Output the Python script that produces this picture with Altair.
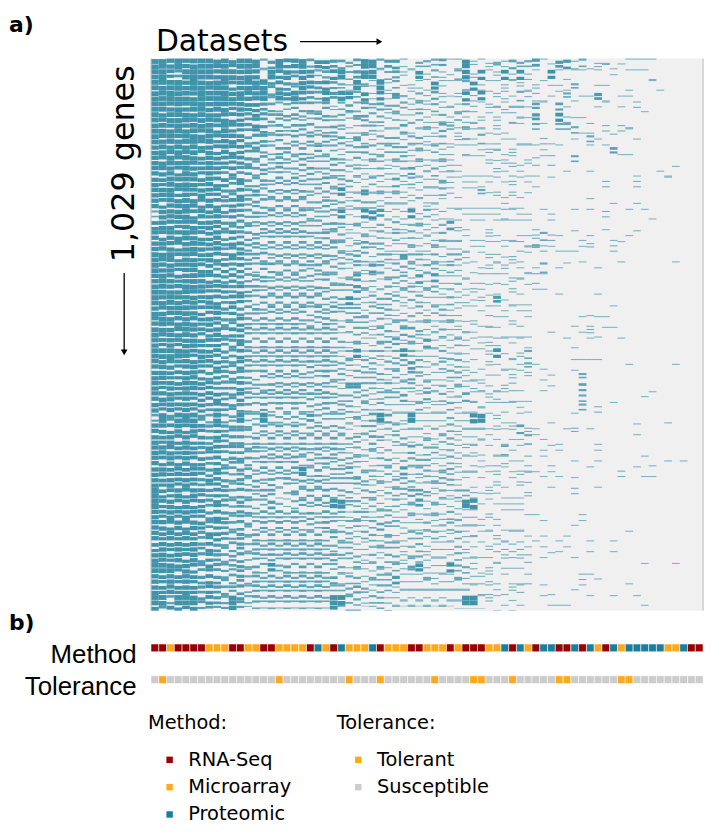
import altair as alt
import pandas as pd

# ---------------- data ----------------
N_GENES = 1029
BAND_GENES = 20                       # genes per row band of the density grid
DATASETS = list(range(1, 72))         # 71 datasets (columns)

# heatmap fill per row band (0 = empty .. 9 = full), columns 1-24
HEAT_A = [
    "887978887868873586784665", "896589887887872867576346", "888979878867888565476564",
    "889887988978778476865475", "887878878767665433444342", "878887877766565444433443",
    "887878786866565343444334", "878788786776455343434343", "787878676766554344343433",
    "778787676666544343343334", "777687676565544343334333", "768787676656444343433343",
    "778676766556453434343333", "767787676566444343433343", "377786767565443434343333",
    "677677676555434343433334", "767787667565443434343343", "777678767566443434343434",
    "878677676566444343434343", "877677665656434434343433", "787678766565444343433343",
    "887787766656443434343433", "878777676566434343434333", "777787667565443434343434",
    "787777676556434343433343", "877787667566434343434343", "767677666556434343434343",
    "888876766556434343434343", "777677666556434343434343", "776677656555434343433343",
    "767677665556433434343433", "777676666556434343434343", "767676656555434343433343",
    "485888548448338333335333", "776767656555434343433333", "767676656555343434343434",
    "777676566555443434343434", "767676656455434343433343", "776767656545434343473433",
    "767676566545343434343433", "966767656545434422434343", "967676656545433522343437",
    "767676656545434343434343", "776767656545434343433343", "767676566545343434343434",
    "676767565445343434343433", "776767565445343434343434", "888676565445343634343433",
    "767676565445343434343434", "767676565445343434343433", "884888565485343434343438",
    "757667454484232323232327",
]
# columns 25-48
HEAT_B = [
    "434873552133341272123243", "835772342162321372612626", "328328231221621136211212",
    "763626252232421262612213", "343434333232322232122222", "324433232232232321212122",
    "322332224223243232212111", "424323332332231221312111", "233432333232322121122121",
    "323233233232232111121221", "323223223422322111112121", "332232242322232111111121",
    "622523232222232111312121", "323332222212211111111111", "622665222623221111111211",
    "323222232232225211111111", "322323232322231211121111", "323433222322322211111112",
    "334323325332323321122121", "323253233323323211121211", "235232333252522221212122",
    "335322323323322212111121", "363233332232223221215111", "333233322232332211121111",
    "233323233223223212111121", "223323324432232221121111", "323223342325222321122111",
    "236233236322232211126112", "332332333532232321121121", "323333232432223322111121",
    "255332323323222322211221", "333323334224232242122111", "332323222232223212211211",
    "323248422822222227712111", "322332232222223222212124", "333243233223233222211111",
    "323232222423322222111311", "333223322333223212112211", "342332325233233222112112",
    "334323233322333211112112", "332332233443232332121111", "733232232352322277111111",
    "323323322322323222121111", "233234332223223222111111", "332332322332322322112111",
    "332223332232222221122222", "333232332332222322111212", "323223232462226332121111",
    "233233352223222322221111", "334323322222222221121122", "833233222222222288121111",
    "222123121212121111101010",
]
# columns 49-71
HEAT_C = [
    "35115523122111111000000", "21061111010101111000000", "12111130011001001100000",
    "22111311151011000000000", "14104100011010210000000", "15006211000000000000000",
    "03103331202022000000000", "10210010310100100000000", "11101000101411000000000",
    "22120030000000000000000", "11000100100000100111000", "11010000002000200010000",
    "10000000000000000000000", "00000000100100100000000", "10110010102001011000000",
    "11010000001000000000000", "12321011100101100000000", "23211111200210000000000",
    "10000001000010000001000", "11301100010000000000000", "12100000000000000000000",
    "11101000010000000000000", "10000000000000000000000", "10000000100100000000000",
    "10000011111000000000000", "10010001211100000000000", "10000110100010000000000",
    "30000000000000000000000", "31100011110001000001000", "20110013000000000000000",
    "00110004000000000000000", "10000003000000011000000", "10000003020100000000000",
    "00010010000000000010000", "21000120100000100000000", "31101000010000100000000",
    "00111000010000000000000", "20110010010000011010100", "21111000100020111000000",
    "10010010010000000000000", "20000020000000000000000", "00000000000000000000000",
    "11000001000000000000000", "00100011000000000000000", "11101100100101000000000",
    "10101100100100000000000", "20110010000000000000000", "00000000000000010001000",
    "20000002110001000000000", "00110011000000000000000", "00111100100100110000000",
    "00000000000000000000000",
]

METHOD_CODES = list("RRMRRRRMMM" "RRMMRRMMMM" "RPMRPMMMPR" "MMMRRMMMRM"
                    "RRRMMPRPMR" "PPRRPRPMRP" "MPPPPPMMPR" "R")
TOLERANCE_CODES = list("STSSSSSSSS" "SSSSSSTSSS" "SSSSSTSSST" "SSSSSSTSSS"
                       "STTSSSTSSS" "SSTTSSSSSS" "TTSSSSSSSS" "S")

METHOD_NAMES = {"R": "RNA-Seq", "M": "Microarray", "P": "Proteomic"}
TOLERANCE_NAMES = {"T": "Tolerant", "S": "Susceptible"}
METHOD_DOMAIN = ["RNA-Seq", "Microarray", "Proteomic"]
METHOD_COLORS = ["#990000", "#fda91c", "#1a7f9f"]
TOL_DOMAIN = ["Tolerant", "Susceptible"]
TOL_COLORS = ["#fda91c", "#cccccc"]

# ---------------- tables ----------------
n_cols = len(DATASETS)
half = BAND_GENES // 2
grid = [[int(ch) for ch in (HEAT_A[b] + HEAT_B[b] + HEAT_C[b])[:n_cols].ljust(n_cols, "0")]
        for b in range(len(HEAT_A))]


def place(start, length, span, mode):
    """Position a block of `length` genes inside a slot of `span` genes."""
    if mode == 0:
        return start, start + length
    if mode == 1:
        return start + span - length, start + span
    off = (span - length) // 2
    return start + off, start + off + length


rows = []
nb = len(grid)
for b in range(nb):
    g0 = b * BAND_GENES
    size = min(BAND_GENES, N_GENES - g0)
    for ci in range(n_cols):
        d = grid[b][ci]
        if d == 0:
            continue
        # block placement inside the band follows the neighbouring readings
        below = grid[b + 1][ci] if b + 1 < nb else 0
        left = grid[b][ci - 1] if ci > 0 else 0
        mode = (d + below + left + b) % 3
        n = max(1, round(d * size / 9))
        if n <= 2 or size < BAND_GENES:
            pieces = [place(g0, n, size, mode)]
        else:
            a = (n + 1) // 2
            pieces = [place(g0, a, half, mode), place(g0 + half, n - a, half, (mode + left) % 3)]
        for s, e in pieces:
            if e > s:
                rows.append({"dataset": DATASETS[ci], "g0": s, "g1": e, "d": d})
heat_df = pd.DataFrame(rows)

method_df = pd.DataFrame({"dataset": DATASETS,
                          "method": [METHOD_NAMES[c] for c in METHOD_CODES],
                          "row": "Method"})
tol_df = pd.DataFrame({"dataset": DATASETS,
                       "tolerance": [TOLERANCE_NAMES[c] for c in TOLERANCE_CODES],
                       "row": "Tolerance"})
one = pd.DataFrame({"k": [0]})

W = 556
H_HEAT = 556
TEAL = "#3f94ab"
FONT = "DejaVu Sans"

x_enc = alt.X("dataset:O", scale=alt.Scale(domain=DATASETS, paddingInner=0, paddingOuter=0),
              axis=None)

bg = alt.Chart(one).mark_rect(color="#f0f0f0").encode(
    x=alt.value(0), x2=alt.value(W), y=alt.value(0), y2=alt.value(H_HEAT))

heat = alt.Chart(heat_df).mark_rect(color=TEAL).encode(
    x=x_enc,
    y=alt.Y("g0:Q", scale=alt.Scale(domain=[0, N_GENES], range=[0, H_HEAT], nice=False, zero=False),
            axis=None),
    y2="g1:Q",
    opacity=alt.Opacity("d:Q", scale=alt.Scale(domain=[1, 6], range=[0.65, 1], clamp=True),
                        legend=None),
)

border_l = alt.Chart(one).mark_rule(color="#c4c4c4", strokeWidth=1.2).encode(
    x=alt.value(0), y=alt.value(0), y2=alt.value(H_HEAT))
border_r = alt.Chart(one).mark_rule(color="#c4c4c4", strokeWidth=1.2).encode(
    x=alt.value(W), y=alt.value(0), y2=alt.value(H_HEAT))

legend_common = dict(
    orient="none", titleFont=FONT, titleFontSize=19.5, titleFontWeight="normal", titleColor="black",
    labelFont=FONT, labelFontSize=19.5, labelColor="black", symbolType="square", symbolSize=42,
    symbolStrokeWidth=0, symbolOpacity=1, symbolOffset=12, labelOffset=9, rowPadding=6.5,
    titlePadding=17, padding=0,
)

axis_common = dict(orient="left", title=None, ticks=False, domain=False, labelFont="Liberation Sans",
                   labelFontSize=26, labelPadding=15, labelColor="black", labelOffset=7)

method = alt.Chart(method_df).mark_rect(stroke="white", strokeWidth=1, strokeOpacity=0.55).encode(
    x=x_enc,
    y=alt.Y("row:N", scale=alt.Scale(domain=["Method"], range=[589.6, 597.4],
                                     paddingInner=0, paddingOuter=0),
            axis=alt.Axis(**axis_common)),
    color=alt.Color("method:N", scale=alt.Scale(domain=METHOD_DOMAIN, range=METHOD_COLORS),
                    legend=alt.Legend(title="Method:", legendX=-3, legendY=660, **legend_common)),
)

tol = alt.Chart(tol_df).mark_rect(stroke="white", strokeWidth=1, strokeOpacity=0.55).encode(
    x=x_enc,
    y=alt.Y("row:N", scale=alt.Scale(domain=["Tolerance"], range=[621.6, 629.4],
                                     paddingInner=0, paddingOuter=0),
            axis=alt.Axis(**axis_common)),
    color=alt.Color("tolerance:N", scale=alt.Scale(domain=TOL_DOMAIN, range=TOL_COLORS),
                    legend=alt.Legend(title="Tolerance:", legendX=187, legendY=660, **legend_common)),
)


def label(text, x, y, size, weight="normal", angle=0, align="left", baseline="alphabetic"):
    return alt.Chart(one).mark_text(text=text, font=FONT, fontSize=size, fontWeight=weight,
                                    angle=angle, align=align, baseline=baseline,
                                    color="black").encode(x=alt.value(x), y=alt.value(y))


a_lbl = label("a)", -143, -27, 22, weight="bold")
b_lbl = label("b)", -143, 575, 22, weight="bold")
ds_lbl = label("Datasets", 5, -8, 30)
genes_lbl = label("1,029 genes", -27, 106, 32, angle=270, align="center", baseline="middle")

arrow_r = alt.Chart(one).mark_rule(color="black", strokeWidth=1.3).encode(
    x=alt.value(150), x2=alt.value(228), y=alt.value(-17))
head_r = alt.Chart(one).mark_point(shape="triangle-right", filled=True, size=45, color="black",
                                   opacity=1).encode(x=alt.value(230), y=alt.value(-17))
arrow_d = alt.Chart(one).mark_rule(color="black", strokeWidth=1.3).encode(
    x=alt.value(-27), y=alt.value(216), y2=alt.value(294))
head_d = alt.Chart(one).mark_point(shape="triangle-down", filled=True, size=45, color="black",
                                   opacity=1).encode(x=alt.value(-27), y=alt.value(296))

chart = alt.layer(
    bg, heat, border_l, border_r, method, tol,
    a_lbl, b_lbl, ds_lbl, genes_lbl, arrow_r, head_r, arrow_d, head_d,
).resolve_scale(y="independent", color="independent", opacity="independent").properties(
    width=W, height=770,
    autosize=alt.AutoSizeParams(type="none"),
    padding={"left": 144, "top": 48, "right": 12, "bottom": 5},
).configure_view(strokeWidth=0)

chart.save("out.html", embed_options={"renderer": "svg", "actions": False})
